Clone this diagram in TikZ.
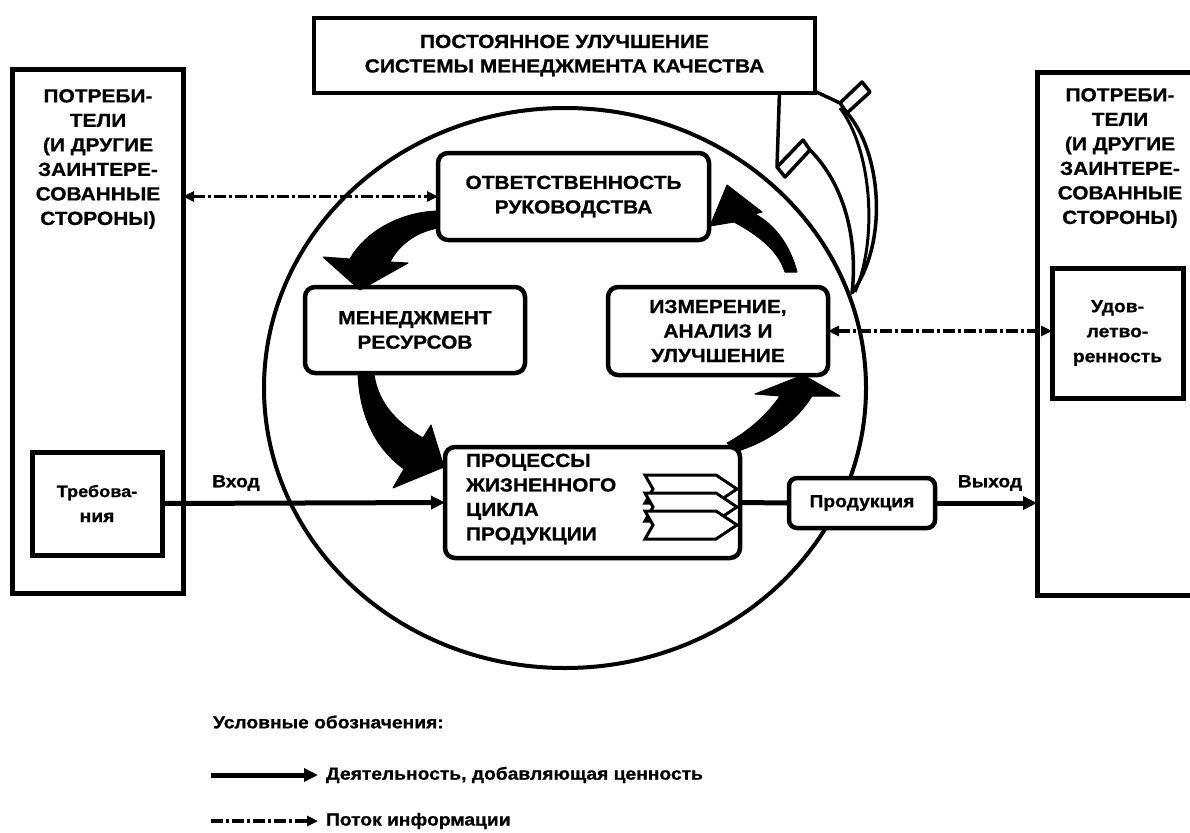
\documentclass[tikz,border=0pt]{standalone}
\usepackage{fontspec}
\newfontfamily\dfont{Liberation Sans}[FakeStretch=1.1, FakeBold=0.8]
\usetikzlibrary{arrows.meta}
\begin{document}
\begin{tikzpicture}[x=1pt,y=-1pt,
  caps/.style={font=\dfont\bfseries\fontsize{19}{24.5}\selectfont},
  lc/.style={font=\dfont\bfseries\fontsize{17.5}{25}\selectfont},
  every node/.style={inner sep=0pt, outer sep=0pt, align=center, caps},
  sqbox/.style={draw, line width=5pt, fill=white},
  rndbox/.style={draw, line width=4.5pt, rounded corners=10pt, fill=white},
  flow/.style={line width=5pt, -{Triangle[length=14pt,width=13pt]}},
  info/.style={line width=3.5pt, dash pattern=on 12pt off 3pt on 3pt off 3pt},
  blackarrow/.style={fill=black, draw=black, line width=1pt, line join=round},
  hollow/.style={draw=black, fill=white, line width=3.5pt, line join=round},
]
\clip (0,0) rectangle (1190,832);
\fill[white] (0,0) rectangle (1190,832);

% big cycle
\draw[line width=4pt] (565,388) ellipse [x radius=301, y radius=280];

% hollow arrow (continual improvement)
\draw[hollow] (852,293) .. controls (858,240) and (845,185) .. (810,150)
  -- (785,177) -- (777,167) -- (780,75) -- (840,103) -- (862,82) -- (870,92) -- (847,113)
  .. controls (880,150) and (890,240) .. (852,293) -- cycle;
\draw[line width=3.5pt, line join=round] (777,167) -- (803,140) -- (810,150);
\draw[line width=3.5pt] (840,103) -- (847,113);
\draw[line width=3pt] (840,108) .. controls (872,150) and (878,240) .. (855,292);

% outer boxes
\node[sqbox, minimum width=171, minimum height=523] (lbox) at (97.5,331.5) {};
\node[sqbox, minimum width=200, minimum height=522] (rbox) at (1137,334) {};
\node (ltxt) at (98,159) {\fontsize{19}{26.4}\selectfont ПОТРЕБИ-\\ТЕЛИ\\(И ДРУГИЕ\\ЗАИНТЕРЕ-\\СОВАННЫЕ\\СТОРОНЫ)};
\node (rtxt) at (1120,158) {ПОТРЕБИ-\\ТЕЛИ\\(И ДРУГИЕ\\ЗАИНТЕРЕ-\\СОВАННЫЕ\\СТОРОНЫ)};
\node[sqbox, lc, minimum width=130, minimum height=103] (treb) at (97,503.5) {\fontsize{16.5}{26}\selectfont Требова-\\ния};
\node[sqbox, lc, minimum width=131, minimum height=130] (udov) at (1117.5,333) {Удов-\\летво-\\ренность};

% top box
\node[sqbox, line width=4.5pt, minimum width=501, minimum height=75] (top) at (564.5,55.5) {ПОСТОЯННОЕ УЛУЧШЕНИЕ\\СИСТЕМЫ МЕНЕДЖМЕНТА КАЧЕСТВА};

% process boxes
\node[rndbox, minimum width=271, minimum height=87] (otv) at (573.5,196.5) {ОТВЕТСТВЕННОСТЬ\\РУКОВОДСТВА};
\node[rndbox, minimum width=220, minimum height=86] (men) at (415,330) {МЕНЕДЖМЕНТ\\РЕСУРСОВ};
\node[rndbox, minimum width=220, minimum height=88] (izm) at (718,331) {ИЗМЕРЕНИЕ,\\АНАЛИЗ И\\УЛУЧШЕНИЕ};
\node[rndbox, minimum width=295, minimum height=111] (proc) at (592.5,502.5) {};
\node[anchor=west, align=left] (proct) at (466,499) {ПРОЦЕССЫ\\ЖИЗНЕННОГО\\ЦИКЛА\\ПРОДУКЦИИ};
\node[rndbox, lc, rounded corners=8pt, minimum width=146, minimum height=50] (prod) at (862,503) {Продукция};

% process icon
\foreach \dy in {0,18,36}{
  \filldraw[fill=white, line width=3pt, line join=miter]
    (645,{475+\dy}) -- (716,{475+\dy}) -- (737,{489+\dy}) -- (716,{503+\dy})
    -- (645,{503+\dy}) -- (653,{489+\dy}) -- cycle;
}

% black cycle arrows
\filldraw[blackarrow] (438,211) .. controls (400,212) and (365,232) .. (350,259)
  -- (323,257) -- (360,290) -- (408,263) -- (390,262)
  .. controls (398,246) and (415,232) .. (438,228) -- cycle;
\filldraw[blackarrow] (358,374) .. controls (360,420) and (378,450) .. (404,469)
  -- (393,488) -- (444,467) -- (431,425) -- (423,438)
  .. controls (400,425) and (378,405) .. (374,374) -- cycle;
\filldraw[blackarrow] (727,443) .. controls (748,432) and (768,414) .. (780,396)
  -- (755,394) -- (803,375) -- (840,396) -- (812,396)
  .. controls (797,420) and (772,440) .. (738,451) -- cycle;
\filldraw[blackarrow] (797,272) .. controls (790,245) and (775,225) .. (755,214)
  -- (762,212) -- (727,185) -- (710,226) -- (734,222)
  .. controls (758,235) and (778,250) .. (785,272) -- cycle;

% flows
\draw[flow] (treb.east) -- (proc.west);
\draw[line width=5pt] (proc.east) -- (prod.west);
\draw[flow] (prod.east) -- (prod.east -| rbox.west);
\node[lc] (vhod) at (236,483) {Вход};
\node[lc] (vyhod) at (990,483) {Выход};

% information flows
\draw[info, {Triangle[length=11pt,width=10pt]}-{Triangle[length=11pt,width=10pt]}] (otv.west -| lbox.east) -- (otv.west);
\draw[info, {Triangle[length=11pt,width=10pt]}-{Triangle[length=11pt,width=10pt]}] (izm.east) -- (izm.east -| udov.west);

% legend
\node[lc, anchor=west] (lgt) at (213,722) {Условные обозначения:};
\coordinate (l1a) at (211,775);
\coordinate (l1b) at (318,775);
\draw[flow] (l1a) -- (l1b);
\node[lc, anchor=west] (l1t) at (326,775) {Деятельность, добавляющая ценность};
\coordinate (l2a) at (211,821);
\coordinate (l2b) at (318,821);
\draw[info, -{Triangle[length=11pt,width=10pt]}] (l2a) -- (l2b);
\node[lc, anchor=west] (l2t) at (326,821) {Поток информации};
\end{tikzpicture}
\end{document}
